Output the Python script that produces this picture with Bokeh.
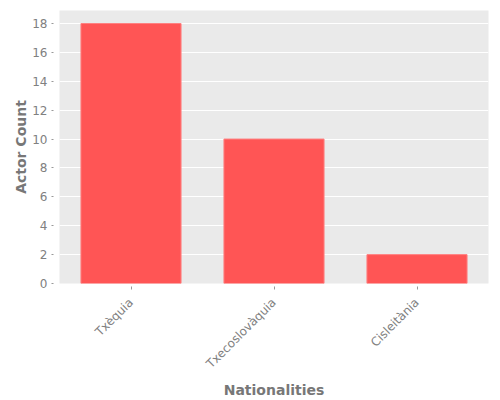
import math
from bokeh.plotting import figure
from bokeh.layouts import row
from bokeh.models import ColumnDataSource, Range1d, FactorRange, Spacer
from bokeh.embed import file_html
from bokeh.resources import INLINE

nationalities = ["Txèquia", "Txecoslovàquia", "Cisleitània"]
actor_counts = [18, 10, 2]

source = ColumnDataSource(data=dict(nat=nationalities, count=actor_counts))

p = figure(width=490, height=400, output_backend="svg", toolbar_location=None,
           x_range=FactorRange(factors=nationalities, range_padding=0),
           y_range=Range1d(0, 18.9))
p.min_border_left = 10
p.min_border_right = 12
p.min_border_top = 10
p.min_border_bottom = 10

p.vbar(x="nat", top="count", width=0.7, source=source,
       fill_color="#FF5555", line_color="#FF8080", line_width=1)

p.background_fill_color = "#EAEAEA"
p.border_fill_color = "white"
p.outline_line_color = None
p.xgrid.grid_line_color = None
p.ygrid.grid_line_color = "white"
p.ygrid.grid_line_width = 1

for ax in (p.xaxis, p.yaxis):
    ax.axis_line_color = None
    ax.major_tick_line_color = "#999999"
    ax.minor_tick_line_color = None
    ax.major_label_text_color = "#808080"
    ax.major_label_text_font = "DejaVu Sans"
    ax.major_label_text_font_size = "12px"
    ax.axis_label_text_color = "#777777"
    ax.axis_label_text_font = "DejaVu Sans"
    ax.axis_label_text_font_size = "14px"
    ax.axis_label_text_font_style = "bold"

p.yaxis.ticker = [0, 2, 4, 6, 8, 10, 12, 14, 16, 18]
p.yaxis.major_tick_in = -6
p.yaxis.major_tick_out = 8
p.yaxis.major_label_standoff = 4
p.yaxis.axis_label = "Actor Count"
p.yaxis.axis_label_standoff = 0

p.xaxis.major_tick_in = -3
p.xaxis.major_tick_out = 6
p.xaxis.axis_label = "Nationalities"
p.xaxis.major_label_orientation = math.pi / 4
p.xaxis.major_label_standoff = 11
p.xaxis.axis_label_standoff = 3

layout = row(Spacer(width=10, height=400), p)
open("out.html", "w").write(file_html(layout, INLINE))
